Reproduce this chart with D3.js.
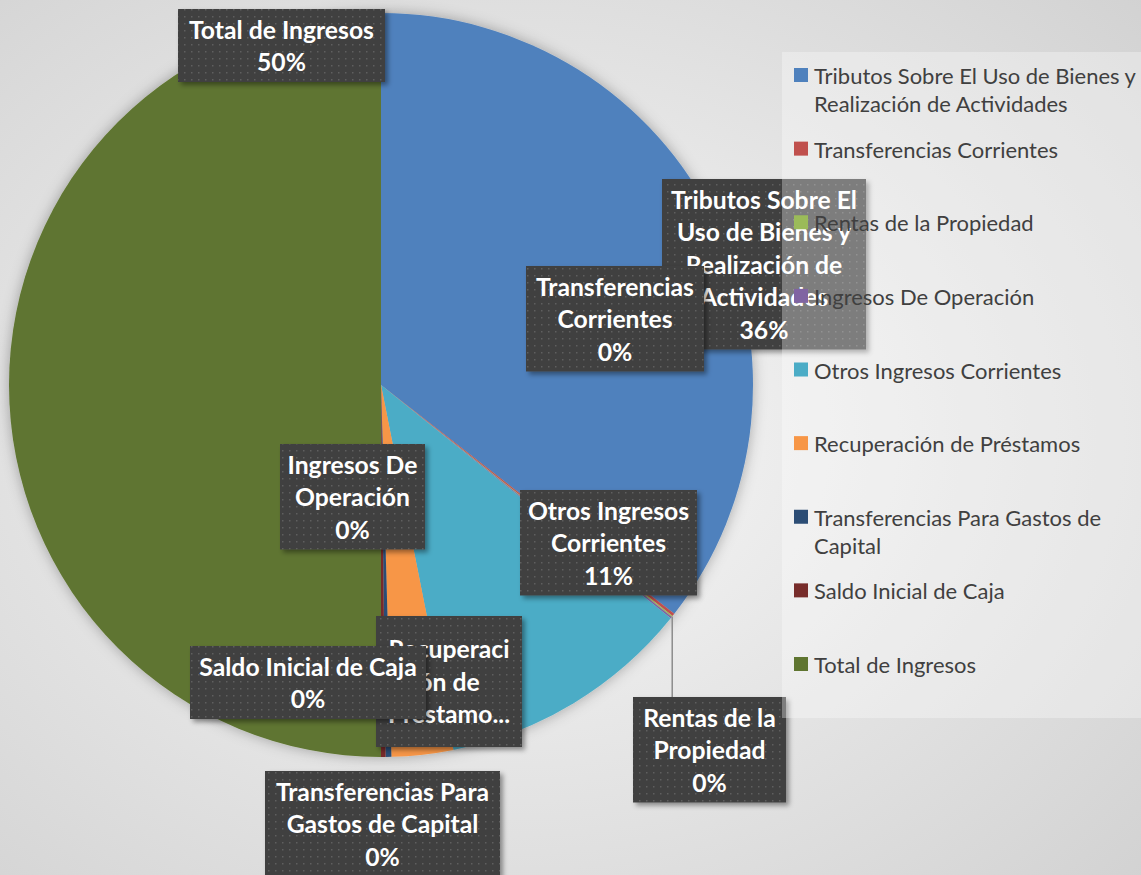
<!DOCTYPE html>
<html><head><meta charset="utf-8">
<script src="https://cdn.jsdelivr.net/npm/d3@7/dist/d3.min.js"></script>
<style>html,body{margin:0;padding:0;overflow:hidden;background:#e2e2e2}</style>
</head><body><svg id="c" width="1141" height="875"></svg>
<script>
// ---------- data ----------
const categories = [
  "Tributos Sobre El Uso de Bienes y Realización de Actividades",
  "Transferencias Corrientes",
  "Rentas de la Propiedad",
  "Ingresos De Operación",
  "Otros Ingresos Corrientes",
  "Recuperación de Préstamos",
  "Transferencias Para Gastos de Capital",
  "Saldo Inicial de Caja",
  "Total de Ingresos"
];
const values = [35.9, 0.12, 0.05, 0.08, 11.2, 2.7, 0.25, 0.2, 50.5];
const colors = ["#4F81BD","#C0504D","#9BBB59","#8064A2","#4BACC6","#F79646","#2C4D75","#772C2A","#5F7530"];
// data-label text as wrapped by the original chart
const labelLines = [
  ["Tributos Sobre El","Uso de Bienes y","Realización de","Actividades"],
  ["Transferencias","Corrientes"],
  ["Rentas de la","Propiedad"],
  ["Ingresos De","Operación"],
  ["Otros Ingresos","Corrientes"],
  ["Recuperaci","ón de","Préstamo..."],
  ["Transferencias Para","Gastos de Capital"],
  ["Saldo Inicial de Caja"],
  ["Total de Ingresos"]
];
const showPercent = [true,true,true,true,true,false,true,true,true];
const legendLines = [
  ["Tributos Sobre El Uso de Bienes y","Realización de Actividades"],
  ["Transferencias Corrientes"],
  ["Rentas de la Propiedad"],
  ["Ingresos De Operación"],
  ["Otros Ingresos Corrientes"],
  ["Recuperación de Préstamos"],
  ["Transferencias Para Gastos de","Capital"],
  ["Saldo Inicial de Caja"],
  ["Total de Ingresos"]
];
// ---------- layout (annotation placement) ----------
const W = 1141, H = 875;
const cx = 381, cy = 385, R = 372;
const labelBoxes = [
  {x:764, top:179, w:204},
  {x:615, top:266, w:178},
  {x:709.5, top:697, w:153, leader:true},
  {x:352.5, top:444, w:145},
  {x:608.5, top:490, w:177},
  {x:449, top:616, w:146, h:131},
  {x:382.5, top:771, w:235},
  {x:308, top:646, w:236},
  {x:281.5, top:9, w:207}
];
const lineH = 32.5;

const svg = d3.select("#c");
const defs = svg.append("defs");
const bg = defs.append("radialGradient").attr("id","bg").attr("cx","45%").attr("cy","50%").attr("r","75%");
bg.append("stop").attr("offset","0%").attr("stop-color","#f8f8f8");
bg.append("stop").attr("offset","100%").attr("stop-color","#d2d2d2");
const pat = defs.append("pattern").attr("id","dots").attr("width",7).attr("height",7).attr("patternUnits","userSpaceOnUse");
pat.append("rect").attr("width",7).attr("height",7).attr("fill","#3f3f3f");
pat.append("rect").attr("x",2).attr("y",2).attr("width",1.5).attr("height",1.5).attr("fill","#5e5e5e");
const fPie = defs.append("filter").attr("id","pieShadow").attr("x","-10%").attr("y","-10%").attr("width","120%").attr("height","120%");
fPie.append("feDropShadow").attr("dx",0).attr("dy",0).attr("stdDeviation",7).attr("flood-color","#000").attr("flood-opacity",0.3);
const fBox = defs.append("filter").attr("id","boxShadow").attr("x","-10%").attr("y","-10%").attr("width","130%").attr("height","130%");
fBox.append("feDropShadow").attr("dx",3).attr("dy",3).attr("stdDeviation",2.5).attr("flood-color","#000").attr("flood-opacity",0.4);

svg.append("rect").attr("width",W).attr("height",H).attr("fill","url(#bg)");

const total = d3.sum(values);
const data = categories.map((c,i)=>({name:c, value:values[i], color:colors[i], i}));
const pie = d3.pie().sort(null).value(d=>d.value);
const arcs = pie(data);
const arcGen = d3.arc().innerRadius(0).outerRadius(R);

const gPie = svg.append("g").attr("transform",`translate(${cx},${cy})`).attr("filter","url(#pieShadow)");
gPie.selectAll("path").data(arcs).join("path")
  .attr("d",arcGen).attr("fill",d=>d.data.color);

// font-size fitting helpers
function fitSize(text, family, weight, target){
  const t = svg.append("text").attr("font-family",family).attr("font-weight",weight).attr("font-size",100).text(text);
  const w = t.node().getComputedTextLength(); t.remove();
  return 100*target/w;
}
const labFont = "Lato, 'Open Sans', sans-serif";
const labSize = fitSize("Total de Ingresos", labFont, "bold", 185);
const legSize = fitSize("Tributos Sobre El Uso de Bienes y", labFont, "normal", 322);

const pct = d3.format(".0%");
const gLab = svg.append("g");
arcs.forEach((a,i)=>{
  const L = labelBoxes[i];
  const lines = labelLines[i].slice();
  if (showPercent[i]) lines.push(pct(a.data.value/total));
  const n = lines.length;
  const h = L.h || n*lineH + 8;
  if (L.leader){
    const m = (a.startAngle+a.endAngle)/2;
    const px = Math.sin(m)*R + cx, py = -Math.cos(m)*R + cy;
    gLab.append("line").attr("x1",px).attr("y1",py).attr("x2",px).attr("y2",L.top)
      .attr("stroke","#8c8c8c").attr("stroke-width",1.5);
  }
  const g = gLab.append("g");
  g.append("rect").attr("x",L.x - L.w/2).attr("y",L.top).attr("width",L.w).attr("height",h)
    .attr("fill","url(#dots)").attr("filter","url(#boxShadow)");
  const off = (h - n*lineH)/2;
  lines.forEach((s,k)=>{
    g.append("text").attr("x",L.x).attr("y",L.top + off + 25.5 + k*lineH)
      .attr("text-anchor","middle").attr("font-family",labFont).attr("font-weight","bold")
      .attr("font-size",labSize).attr("fill","#fff").text(s);
  });
});

// legend
const leg = svg.append("g");
leg.append("rect").attr("x",782).attr("y",52).attr("width",W-782).attr("height",666)
  .attr("fill","#fff").attr("fill-opacity",0.32);
const legY = d3.scaleLinear().domain([0, categories.length-1]).range([84, 673]);
categories.forEach((c,i)=>{
  const y = legY(i);
  leg.append("rect").attr("x",794).attr("y",y-16).attr("width",14).attr("height",14).attr("fill",colors[i]);
  legendLines[i].forEach((s,k)=>{
    leg.append("text").attr("x",814).attr("y",y + k*28).attr("font-family",labFont)
      .attr("font-size",legSize).attr("fill","#404040").text(s);
  });
});
</script></body></html>
